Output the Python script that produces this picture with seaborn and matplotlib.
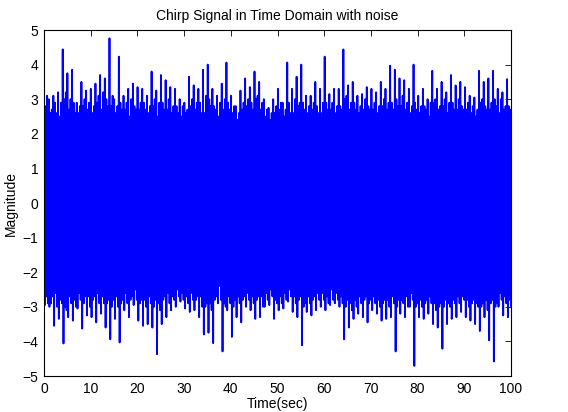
import numpy as np
import pandas as pd
import seaborn as sns
import matplotlib
matplotlib.use("Agg")
import matplotlib.pyplot as plt

# ---- data, one entry per second (0..99 s)
# highest peak / lowest trough within each second
hi = [3.6, 3.0, 3.1, 3.2, 4.44, 3.75, 3.85, 2.9, 3.5, 3.25,
      3.3, 3.45, 3.7, 3.6, 4.76, 3.0, 4.23, 3.1, 3.3, 3.45,
      3.35, 3.3, 3.1, 3.8, 3.25, 3.7, 3.55, 3.35, 3.3, 3.0,
      2.9, 3.65, 3.4, 3.3, 3.85, 4.0, 3.3, 3.1, 3.45, 4.06,
      3.1, 2.8, 3.25, 3.6, 3.35, 3.8, 3.5, 3.0, 2.75, 3.0,
      3.3, 2.9, 4.06, 3.3, 3.65, 4.0, 3.1, 3.1, 3.5, 3.3,
      4.23, 3.15, 3.3, 3.3, 4.44, 3.4, 3.5, 3.1, 3.15, 3.35,
      3.3, 3.2, 3.5, 3.3, 3.97, 3.85, 3.6, 3.55, 3.3, 4.0,
      3.1, 3.3, 3.0, 3.82, 3.3, 3.5, 3.2, 3.7, 3.4, 3.5,
      3.35, 3.1, 3.05, 3.82, 3.5, 3.6, 3.82, 3.3, 3.2, 3.58]
lo = [-2.95, -3.0, -3.55, -3.35, -4.06, -3.3, -3.4, -3.05, -3.63, -3.25,
      -3.3, -3.45, -3.2, -3.6, -3.94, -3.35, -4.03, -3.1, -3.3, -2.95,
      -3.4, -3.55, -3.5, -3.6, -4.37, -3.5, -3.3, -3.1, -3.0, -2.85,
      -3.05, -3.15, -3.1, -3.3, -3.8, -3.75, -4.05, -2.9, -4.29, -3.1,
      -3.87, -3.3, -3.45, -3.0, -3.1, -3.35, -3.3, -3.0, -2.95, -3.35,
      -3.1, -3.05, -2.85, -3.15, -3.3, -4.11, -3.15, -3.25, -3.1, -3.0,
      -3.1, -2.95, -2.9, -3.0, -3.94, -3.6, -3.35, -3.2, -3.3, -3.45,
      -3.1, -3.2, -3.4, -3.35, -3.3, -4.29, -3.2, -3.3, -3.0, -4.71,
      -3.3, -3.35, -3.2, -3.5, -3.6, -4.21, -3.5, -3.35, -3.3, -3.15,
      -3.3, -3.4, -3.5, -3.7, -3.3, -3.97, -4.58, -3.0, -3.25, -3.3]
# secondary peaks / troughs
hi2 = [2.8, 2.6, 2.9, 2.5, 3.0, 2.7, 2.9, 2.6, 2.8, 2.7,
       2.6, 2.9, 2.7, 3.0, 2.8, 2.6, 2.9, 2.7, 2.5, 2.8,
       2.7, 2.9, 2.6, 2.8, 2.5, 2.9, 2.7, 2.6, 2.8, 2.5,
       2.6, 2.8, 2.7, 2.9, 2.6, 3.0, 2.8, 2.5, 2.7, 2.9,
       2.6, 2.4, 2.7, 2.8, 2.9, 3.0, 2.7, 2.5, 2.4, 2.6,
       2.7, 2.5, 2.9, 2.6, 2.8, 2.9, 2.6, 2.7, 2.8, 2.6,
       2.9, 2.7, 2.6, 2.8, 3.0, 2.7, 2.9, 2.6, 2.7, 2.8,
       2.7, 2.6, 2.8, 2.7, 2.9, 3.0, 2.8, 2.7, 2.6, 2.9,
       2.6, 2.8, 2.5, 2.9, 2.7, 2.8, 2.6, 2.9, 2.7, 2.8,
       2.7, 2.6, 2.5, 2.9, 2.8, 2.7, 3.0, 2.6, 2.7, 2.8]
lo2 = [-2.7, -2.9, -2.6, -2.8, -3.0, -2.7, -2.8, -2.6, -2.9, -2.7,
       -2.8, -2.6, -2.7, -2.9, -3.0, -2.7, -2.9, -2.6, -2.8, -2.5,
       -2.9, -2.8, -2.7, -3.0, -2.9, -2.8, -2.6, -2.7, -2.5, -2.6,
       -2.7, -2.6, -2.8, -2.7, -3.0, -2.9, -2.8, -2.4, -2.9, -2.7,
       -3.0, -2.7, -2.8, -2.6, -2.7, -2.8, -2.7, -2.6, -2.5, -2.8,
       -2.7, -2.6, -2.5, -2.7, -2.8, -3.0, -2.7, -2.8, -2.6, -2.6,
       -2.7, -2.5, -2.6, -2.7, -3.0, -2.9, -2.8, -2.7, -2.8, -2.9,
       -2.7, -2.8, -2.9, -2.8, -2.7, -3.0, -2.8, -2.7, -2.6, -3.0,
       -2.8, -2.9, -2.7, -2.9, -3.0, -3.0, -2.9, -2.8, -2.7, -2.7,
       -2.8, -2.9, -2.9, -3.0, -2.8, -2.9, -3.0, -2.6, -2.7, -2.8]
# third-level peaks / troughs
hi3 = [3.1, 2.7, 2.6, 2.9, 3.2, 3.0, 2.6, 2.8, 3.0, 2.9,
       2.8, 3.1, 3.2, 2.8, 3.1, 2.8, 2.7, 2.9, 3.0, 2.7,
       2.9, 2.7, 2.8, 3.0, 2.9, 2.7, 3.0, 2.8, 2.6, 2.8,
       2.7, 3.0, 2.9, 2.6, 3.1, 2.8, 2.7, 2.9, 3.0, 2.7,
       2.8, 2.6, 2.9, 3.0, 2.7, 3.1, 2.9, 2.7, 2.6, 2.8,
       2.9, 2.7, 2.6, 3.0, 2.9, 2.7, 2.8, 2.9, 2.6, 2.9,
       2.7, 2.9, 2.8, 2.7, 3.1, 2.9, 2.7, 2.8, 3.0, 2.7,
       2.9, 2.8, 3.0, 2.9, 2.7, 2.8, 3.1, 2.9, 2.8, 2.7,
       2.8, 2.7, 2.9, 3.0, 2.8, 3.0, 2.9, 2.7, 3.0, 2.7,
       2.9, 2.8, 2.7, 3.0, 2.7, 2.9, 2.8, 3.0, 2.8, 2.7]
lo3 = [-2.9, -2.7, -3.0, -2.9, -3.1, -2.9, -3.0, -2.8, -2.7, -3.0,
       -2.7, -2.9, -2.9, -2.8, -2.8, -3.0, -2.8, -2.9, -2.7, -2.8,
       -2.8, -3.0, -2.9, -2.8, -3.1, -2.7, -2.9, -2.8, -2.7, -2.8,
       -2.9, -2.8, -2.7, -3.0, -2.9, -3.1, -2.7, -2.8, -3.0, -2.9,
       -2.8, -2.9, -2.7, -2.8, -2.9, -2.7, -3.0, -2.8, -2.7, -2.9,
       -2.9, -2.8, -2.7, -2.9, -2.7, -2.9, -2.9, -2.7, -2.8, -2.8,
       -2.9, -2.8, -2.8, -2.9, -2.8, -3.1, -3.0, -2.9, -2.7, -2.8,
       -2.9, -3.0, -2.8, -3.0, -2.9, -2.8, -2.9, -3.0, -2.8, -2.9,
       -3.0, -2.8, -2.9, -3.1, -2.9, -2.8, -3.0, -2.9, -2.9, -2.8,
       -3.0, -2.8, -3.0, -2.9, -3.1, -2.8, -2.9, -2.8, -2.9, -3.0]
# solid core of the band
core_hi = [2.4, 2.3, 2.4, 2.3, 2.5, 2.4, 2.4, 2.3, 2.4, 2.5,
           2.4, 2.5, 2.4, 2.5, 2.5, 2.4, 2.5, 2.3, 2.4, 2.4,
           2.3, 2.4, 2.3, 2.5, 2.4, 2.5, 2.4, 2.4, 2.3, 2.3,
           2.3, 2.4, 2.4, 2.3, 2.5, 2.5, 2.4, 2.3, 2.4, 2.5,
           2.3, 2.2, 2.3, 2.4, 2.4, 2.5, 2.4, 2.3, 2.2, 2.3,
           2.4, 2.3, 2.5, 2.3, 2.4, 2.5, 2.3, 2.3, 2.4, 2.4,
           2.5, 2.4, 2.3, 2.4, 2.5, 2.4, 2.5, 2.3, 2.4, 2.4,
           2.4, 2.4, 2.5, 2.4, 2.5, 2.5, 2.4, 2.4, 2.3, 2.5,
           2.3, 2.4, 2.3, 2.5, 2.4, 2.4, 2.3, 2.5, 2.4, 2.4,
           2.4, 2.3, 2.3, 2.5, 2.4, 2.4, 2.5, 2.3, 2.4, 2.4]
core_lo = [-2.4, -2.5, -2.5, -2.5, -2.6, -2.5, -2.5, -2.4, -2.6, -2.5,
           -2.5, -2.6, -2.5, -2.6, -2.6, -2.5, -2.6, -2.5, -2.5, -2.4,
           -2.6, -2.6, -2.5, -2.6, -2.7, -2.6, -2.5, -2.5, -2.4, -2.4,
           -2.5, -2.5, -2.5, -2.5, -2.6, -2.6, -2.6, -2.3, -2.6, -2.5,
           -2.6, -2.5, -2.5, -2.4, -2.5, -2.5, -2.5, -2.4, -2.4, -2.5,
           -2.5, -2.4, -2.4, -2.5, -2.5, -2.6, -2.5, -2.5, -2.4, -2.4,
           -2.5, -2.4, -2.4, -2.5, -2.6, -2.6, -2.5, -2.5, -2.5, -2.6,
           -2.5, -2.5, -2.6, -2.5, -2.5, -2.6, -2.5, -2.5, -2.4, -2.6,
           -2.5, -2.6, -2.5, -2.6, -2.6, -2.6, -2.6, -2.5, -2.5, -2.5,
           -2.5, -2.6, -2.6, -2.6, -2.5, -2.6, -2.6, -2.4, -2.5, -2.5]

x_ticks = [0, 10, 20, 30, 40, 50, 60, 70, 80, 90, 100]
y_ticks = [-5, -4, -3, -2, -1, 0, 1, 2, 3, 4, 5]
title = "Chirp Signal in Time Domain with noise"
xlabel = "Time(sec)"
ylabel = "Magnitude"

# interleave the samples of each second into one trace
vals = []
for a, b, c, d, e, f in zip(hi, lo, hi2, lo2, hi3, lo3):
    vals.extend([a, b, c, d, e, f])
t = np.linspace(0, 100, len(vals))
df = pd.DataFrame({"t": t, "v": vals})
t_core = np.linspace(0, 100, len(core_hi))

sns.set_theme(style="white")
plt.rcParams["font.family"] = ["Liberation Sans", "DejaVu Sans"]
plt.rcParams["text.color"] = "black"
plt.rcParams["axes.labelcolor"] = "black"
plt.rcParams["xtick.color"] = "black"
plt.rcParams["ytick.color"] = "black"

fig = plt.figure(figsize=(5.68, 4.12), dpi=100)
ax = fig.add_axes([44 / 568, 36 / 412, 467 / 568, 346 / 412])
ax.fill_between(t_core, core_lo, core_hi, color="#0000ff", linewidth=0)
sns.lineplot(data=df, x="t", y="v", ax=ax, color="#0000ff", linewidth=1.3,
             estimator=None, sort=False)

ax.set_xlim(0, 100)
ax.set_ylim(-5, 5)
ax.set_xticks(x_ticks)
ax.set_yticks(y_ticks)
ax.tick_params(direction="in", top=True, right=True, length=4, width=0.6,
               labelsize=10, colors="black", pad=4)
for s in ax.spines.values():
    s.set_color("black")
    s.set_linewidth(0.8)
ax.set_title(title, fontsize=10, pad=7, color="black")
ax.set_xlabel(xlabel, fontsize=10, labelpad=1, color="black")
ax.set_ylabel(ylabel, fontsize=10, labelpad=3, color="black")

fig.savefig("out.png", dpi=100)
